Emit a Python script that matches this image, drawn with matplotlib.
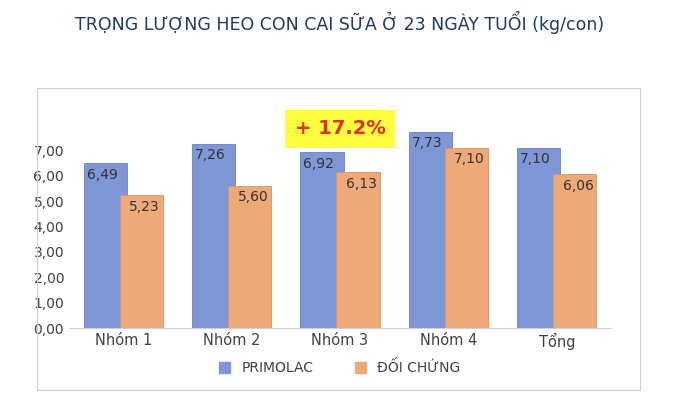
import matplotlib.pyplot as plt
import numpy as np
from matplotlib.patches import Rectangle, Patch

groups = ['Nhóm 1', 'Nhóm 2', 'Nhóm 3', 'Nhóm 4', 'Tổng']
primolac = [6.49, 7.26, 6.92, 7.73, 7.10]
doichung = [5.23, 5.60, 6.13, 7.10, 6.06]
ticks = [0, 1, 2, 3, 4, 5, 6, 7]

blue = '#7f96d6'
orange = '#eea978'

fig = plt.figure(figsize=(6.8, 4.04), dpi=100)
fig.patches.append(Rectangle((37/680, 1-390/404), 603/680, 302/404, transform=fig.transFigure,
                             fill=False, edgecolor='#d0d0d0', lw=0.8))
fig.text(0.5, 1-22/404, 'TRỌNG LƯỢNG HEO CON CAI SỮA Ở 23 NGÀY TUỔI (kg/con)',
         ha='center', va='center', fontsize=12.5, color='#1f3864')

ax = fig.add_axes([69/680, 1-328/404, 542/680, 203/404])
x = np.arange(len(groups))
w = 0.4
d = 0.166
ax.bar(x - d, primolac, w, color=blue, edgecolor='#6a82c4', lw=0.6, zorder=2)
ax.bar(x + d, doichung, w, color=orange, edgecolor='#d99464', lw=0.6, zorder=3)
for i in range(len(groups)):
    ax.text(x[i] - d - 0.03, primolac[i] - 0.45, f'{primolac[i]:.2f}'.replace('.', ','),
            ha='center', va='center', fontsize=10, color='#333333', zorder=5)
    ax.text(x[i] + d + 0.03, doichung[i] - 0.45, f'{doichung[i]:.2f}'.replace('.', ','),
            ha='center', va='center', fontsize=10, color='#333333', zorder=5)

ax.set_xlim(-0.5, 4.5)
ax.set_ylim(0, 8)
ax.set_yticks(ticks)
ax.set_yticklabels([f'{t:.2f}'.replace('.', ',') for t in ticks], fontsize=10, color='#404040')
ax.set_xticks(x)
ax.set_xticklabels(groups, fontsize=10.5, color='#404040')
for s in ['top', 'right', 'left']:
    ax.spines[s].set_visible(False)
ax.spines['bottom'].set_color('#d0d0d0')
ax.tick_params(length=0)

ax.text(2, 7.85, '+ 17.2%', ha='center', va='center', fontsize=14, fontweight='bold',
        color='#e03030', bbox=dict(boxstyle='square,pad=0.5', fc='#ffff40', ec='none'))

fig.legend(handles=[Patch(color=blue, label='PRIMOLAC'), Patch(color=orange, label='ĐỐI CHỨNG')],
           loc='center', bbox_to_anchor=(0.5, 1-368/404), ncol=2, frameon=False,
           fontsize=10, handlelength=0.8, handleheight=0.8, columnspacing=3, labelcolor='#404040')

fig.savefig('out.png', dpi=100)
